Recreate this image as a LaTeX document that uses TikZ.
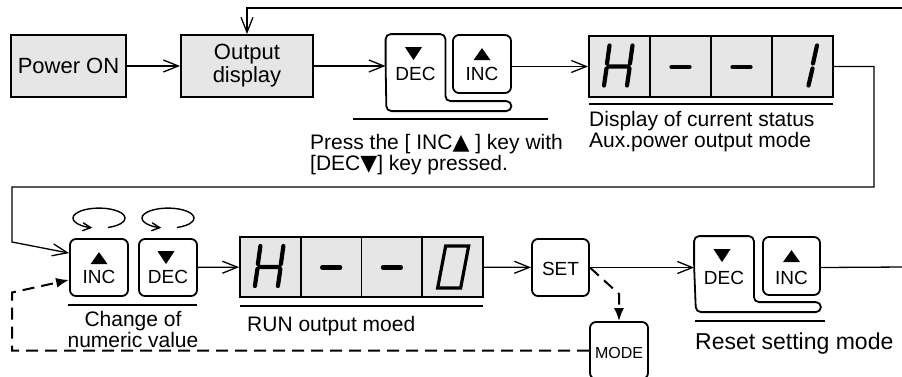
\documentclass[tikz,border=0pt]{standalone}
\usepackage{fontspec}
\setmainfont{Liberation Sans}
\newfontfamily\markfont{DejaVu Sans}
\usetikzlibrary{arrows.meta,calc}
\definecolor{panelgray}{RGB}{230,230,230}

\tikzset{
  box/.style={draw, line width=1.8pt, fill=panelgray, inner sep=0pt, minimum height=62pt, align=center, font=\fontsize{22}{23}\selectfont},
  keycap/.style={draw, line width=1.8pt, rounded corners=6pt, inner sep=0pt, minimum width=58pt, text height=45pt, text depth=13pt, font=\fontsize{19}{19}\selectfont},
  lcdcell/.style={draw, line width=1.8pt, fill=panelgray, inner sep=0pt, minimum width=61pt, minimum height=61pt},
  lcdseg/.style={line width=4.2pt, line cap=round},
  flow/.style={line width=1.3pt, -{Straight Barb[length=15pt,width=12pt]}},
  link/.style={line width=1.3pt},
  dashback/.style={line width=2pt, dash pattern=on 12pt off 7pt, -{Latex[length=13pt,width=10pt]}},
  spin/.style={line width=1.4pt, -{Straight Barb[length=8pt,width=8pt]}},
  rule/.style={line width=1.6pt},
  lbl/.style={font=\fontsize{21}{21}\selectfont, inner sep=0pt, align=left},
}

% seven segment glyphs, drawn round a cell centre
\newcommand\digitH[1]{\begin{scope}[shift={(#1)}]
  \draw[lcdseg] (-10,-21) -- (-12.5,-3) (-13,2) -- (-15.5,19) (13,-21) -- (10.5,-3) (10,2) -- (7.5,19) (-11,0) -- (9,0);
\end{scope}}
\newcommand\digitDash[1]{\begin{scope}[shift={(#1)}]
  \draw[lcdseg] (-9,0.5) -- (9,0.5);
\end{scope}}
\newcommand\digitOne[1]{\begin{scope}[shift={(#1)}]
  \draw[lcdseg] (14.5,-21) -- (10.5,-3) (10,2) -- (6,19);
\end{scope}}
\newcommand\digitZero[1]{\begin{scope}[shift={(#1)}]
  \draw[line width=3.2pt] (-7,-21) -- (16,-21) -- (8,21) -- (-15,21) -- cycle;
\end{scope}}
% key marks
\newcommand\upmark[1]{\fill ($(#1.north)+(0,14)$) -- ++(8.5,12) -- ++(-17,0) -- cycle;}
\newcommand\downmark[1]{\fill ($(#1.north)+(-10.5,13)$) -- ++(17,0) -- ++(-8.5,13) -- cycle;}
\newcommand\txtup{{\markfont\fontsize{22}{21}\selectfont ▲}}
\newcommand\txtdown{{\markfont\fontsize{22}{21}\selectfont ▼}}

\begin{document}
\begin{tikzpicture}[x=1pt, y=-1pt]
\useasboundingbox (0,0) rectangle (902,376);

% top row
\node[box, minimum width=115pt] (pwr) at (68.5,66) {Power ON};
\node[box, minimum width=132pt] (outd) at (247,66) {Output\\display};
\node[keycap, draw=none] (dec1) at (415.5,64) {DEC};
\node[keycap] (inc1) at (482,64) {INC};
\draw[line width=1.8pt, rounded corners=5pt] (dec1.west) -- (dec1.north west) -- (dec1.north east) -- ++(0,67) -- ++(66,0) -- ++(0,10) -- ++(-125,0) -- cycle;
\downmark{dec1}
\upmark{inc1}
\foreach \n [count=\i from 0] in {a,b,c,d}
  \node[lcdcell] (d1\n) at (619.5+61*\i,66.5) {};
\digitH{d1a}
\digitDash{d1b}
\digitDash{d1c}
\digitOne{d1d}

\draw[flow] (pwr) -- (outd);
\draw[flow] (outd.east) -- (outd.east -| dec1.west);
\draw[flow] (inc1.east |- d1a.west) -- (d1a.west);

\draw[rule] (353,119) -- (548,119);
\draw[rule] (589,104) -- (833,104);
\node[lbl, anchor=base west] (presstxt) at (310,170) {Press the [ INC\txtup\ ] key with\\{[}DEC\txtdown] key pressed.};
\node[lbl, anchor=base west] (statustxt) at (589,147) {Display of current status\\Aux.power output mode};

% bottom row
\node[keycap, text height=44pt, text depth=13pt] (inc2) at (99,267.5) {INC};
\node[keycap, text height=44pt, text depth=13pt] (dec2) at (168,267.5) {DEC};
\upmark{inc2}
\downmark{dec2}
\draw[spin] ($(inc2.north)+(0,-20)$) ++(70:26 and 10) arc[start angle=70, end angle=-255, x radius=26, y radius=10];
\draw[spin] ($(dec2.north)+(0,-20)$) ++(70:26 and 10) arc[start angle=70, end angle=-255, x radius=26, y radius=10];
\foreach \n [count=\i from 0] in {a,b,c,d}
  \node[lcdcell, minimum width=60.75pt, minimum height=60pt] (d2\n) at (270.4+60.75*\i,267) {};
\digitH{d2a}
\digitDash{d2b}
\digitDash{d2c}
\digitZero{d2d}
\node[keycap, minimum width=57pt, text height=36pt, text depth=21pt] (set) at (560.5,267.5) {SET};
\node[keycap, text height=36pt, text depth=21pt, font=\fontsize{16}{16}\selectfont] (mode) at (619,350.5) {MODE};
\node[keycap, draw=none, text height=47pt, text depth=11pt] (dec3) at (724,266) {DEC};
\node[keycap, minimum width=57pt, text height=47pt, text depth=11pt] (inc3) at (791.5,266) {INC};
\draw[line width=1.8pt, rounded corners=5pt] (dec3.west) -- (dec3.north west) -- (dec3.north east) -- ++(0,66) -- ++(67,0) -- ++(0,10) -- ++(-125,0) -- cycle;
\downmark{dec3}
\upmark{inc3}

\draw[rule] (68,305) -- (197,305);
\draw[rule] (240,306) -- (483,306);
\draw[rule] (695,321) -- (825,321);
\node[lbl, anchor=base, align=center] (changetxt) at (133,347) {Change of\\numeric value};
\node[lbl, anchor=base west] (runtxt) at (247,331) {RUN output moed};
\node[lbl, anchor=base west, font=\fontsize{23}{23}\selectfont] (resettxt) at (695,349) {Reset setting mode};

% connectors
\coordinate (loopR) at (874,187);
\coordinate (loopL) at (12,187);
\coordinate (edgeT) at (905,8);
\coordinate (edgeR) at (905,267);
\coordinate (modeBend) at (619,294);
\coordinate (dashL) at (12,350.5);
\draw[flow] (d1d.east) -| (loopR) -- (loopL) -- ++(0,55) -- ($(inc2.north west)+(0,15)$);
\draw[flow] (edgeT) -| (outd.north);
\draw[flow] (dec2) -- (d2a);
\draw[flow] (d2d) -- (set);
\draw[flow] (set.east) -- (set.east -| dec3.west);
\draw[link] (inc3.east |- set.east) -- (edgeR);
\draw[dashback] (set.east) -- (modeBend) -- (mode.north);
\draw[dashback] (mode.west) -- (dashL) -- ++(0,-58) -- ($(inc2.south west)+(0,-17)$);
\end{tikzpicture}
\end{document}
